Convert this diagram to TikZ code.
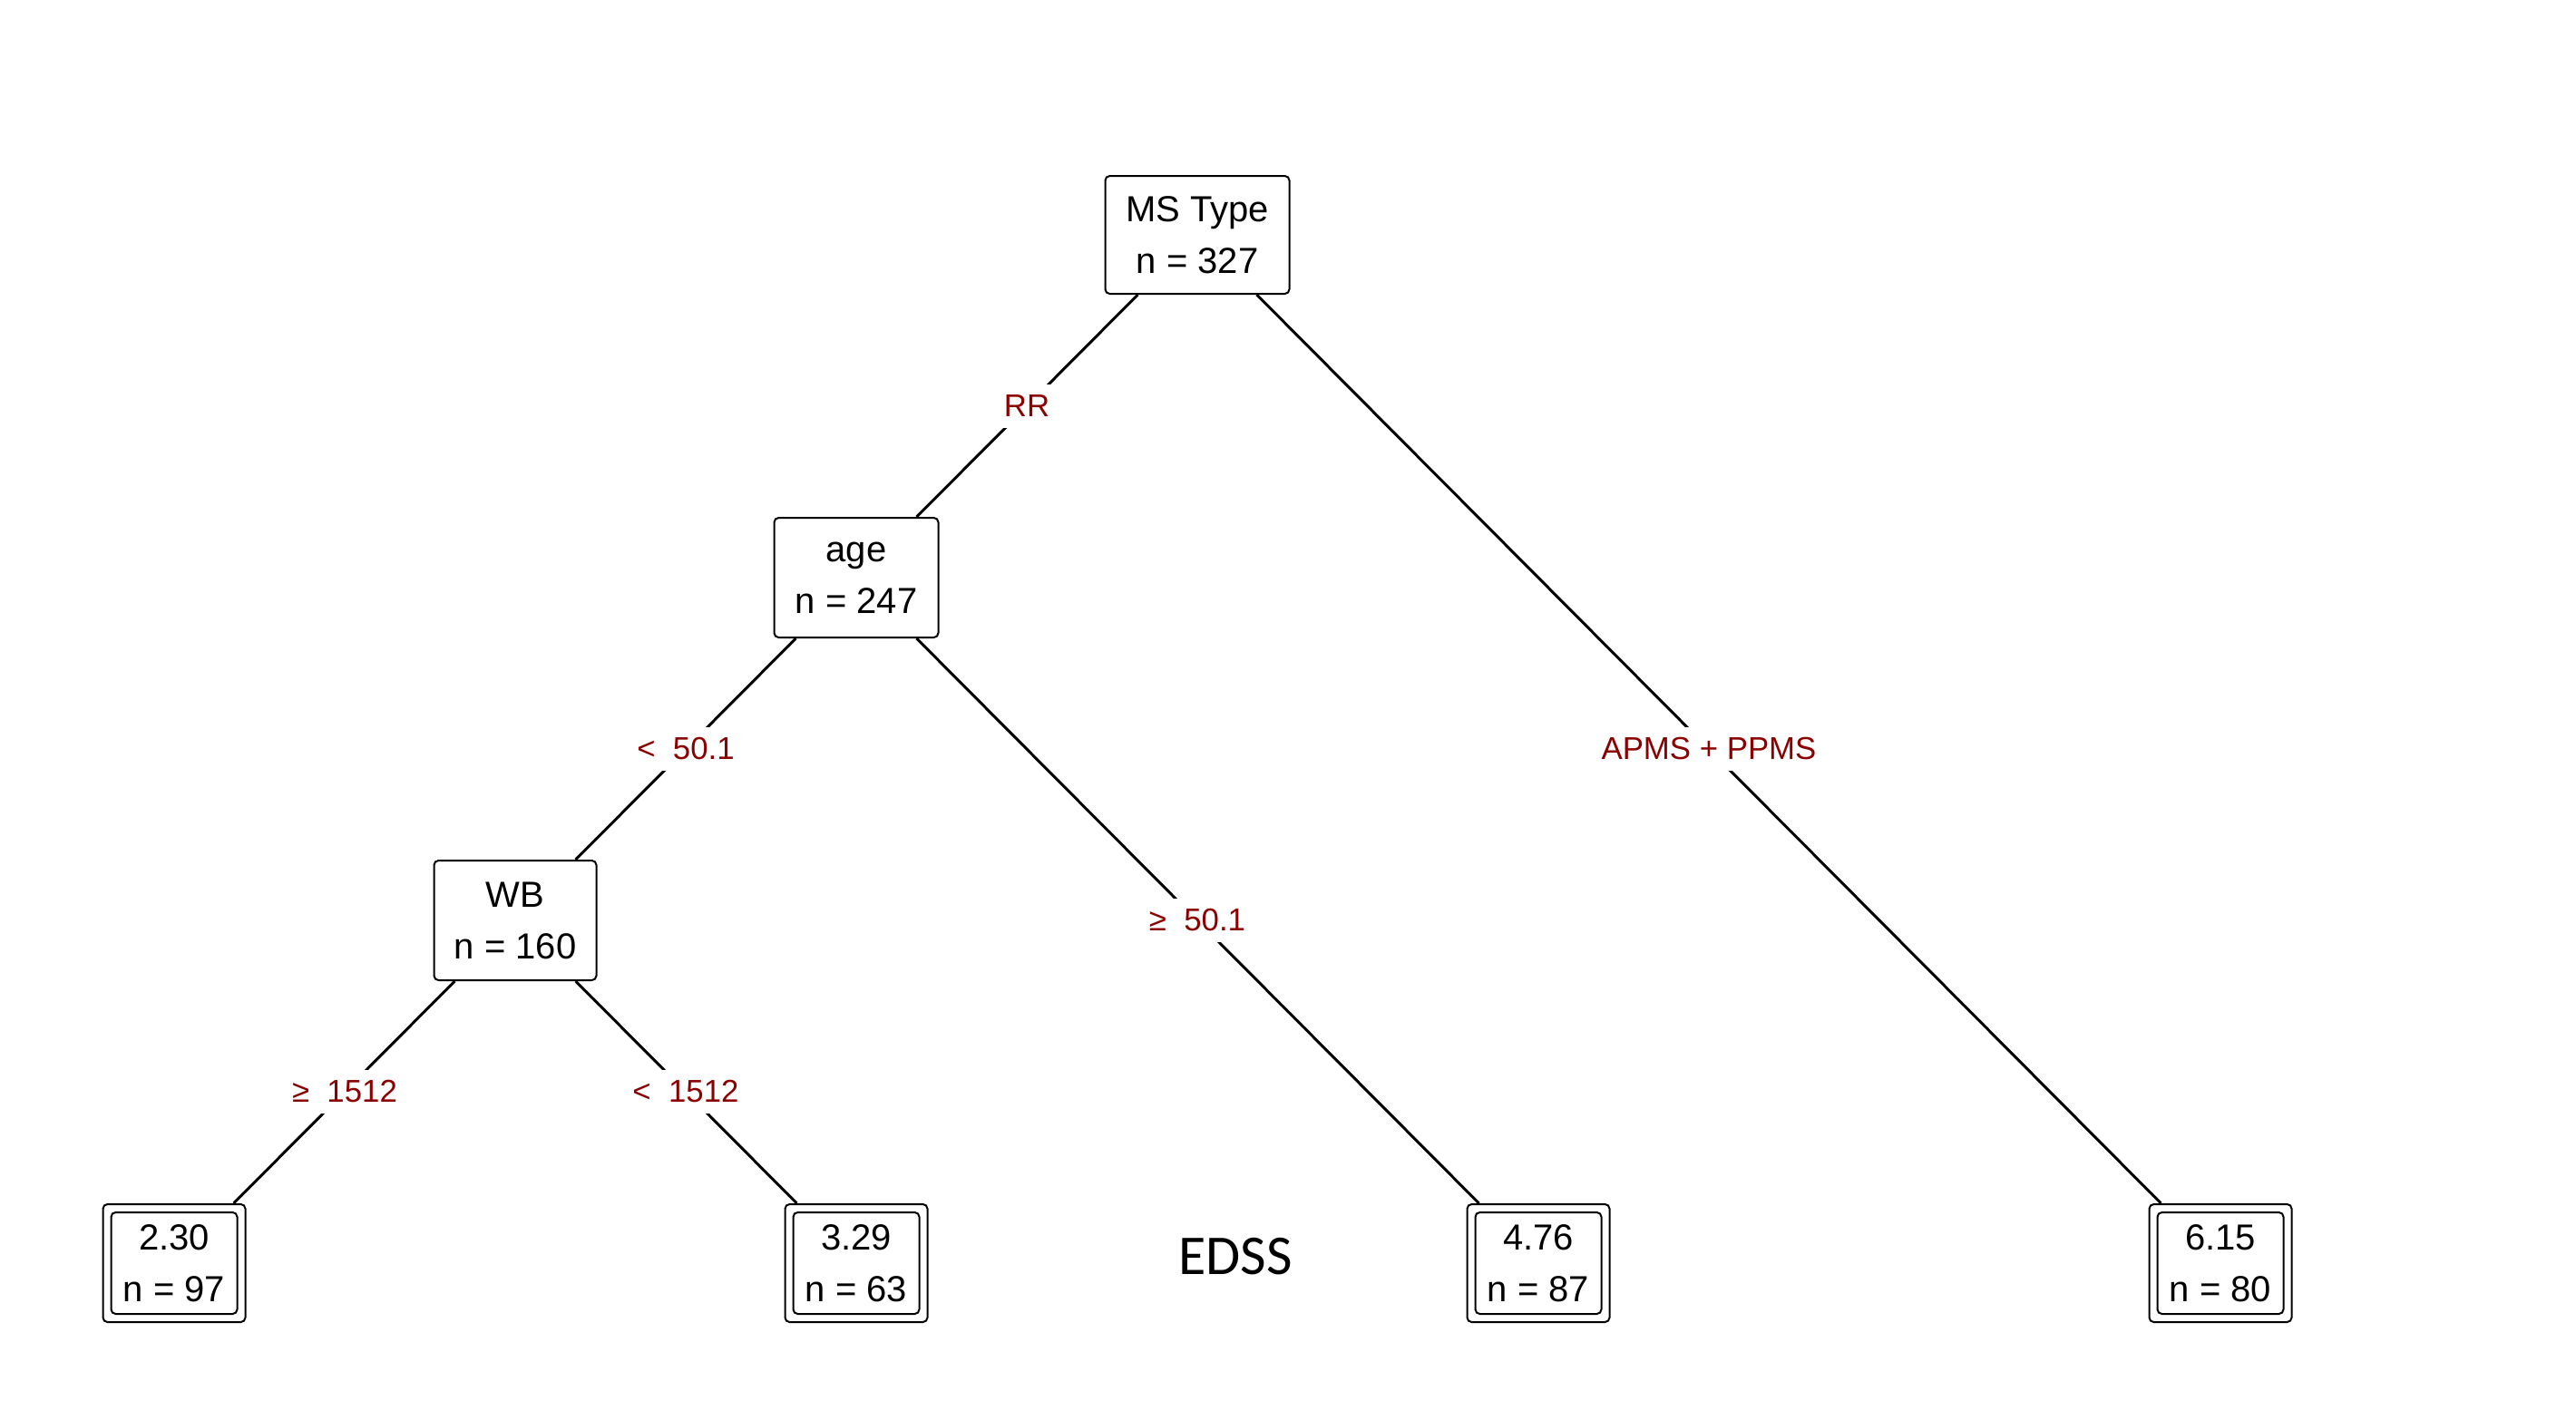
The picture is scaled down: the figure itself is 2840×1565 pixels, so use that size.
\documentclass[tikz,border=0pt]{standalone}
\usepackage{fontspec}
\setmainfont{Liberation Sans}
\newfontfamily\edssfont{Carlito}
\usetikzlibrary{calc}
\definecolor{lblred}{HTML}{8B0000}
\tikzset{
  inner/.style={draw=black, line width=0.5pt, rounded corners=1.25pt, fill=white,
    align=center, inner sep=0pt, font=\fontsize{10}{14.25}\selectfont},
  leafbox/.style={inner, minimum width=157*0.25pt, minimum height=130*0.25pt},
  edge/.style={line width=0.75pt, black},
  lbl/.style={fill=white, text=lblred, inner sep=1pt, minimum height=12pt,
    font=\fontsize{8.7}{10}\selectfont},
}
\begin{document}
\begin{tikzpicture}[x=0.25pt, y=-0.25pt]
\useasboundingbox (0,0) rectangle (2840,1565);
% internal nodes
\node[inner, minimum width=203*0.25pt, minimum height=130*0.25pt] (root) at (1320,259) {MS Type\\n = 327};
\node[inner, minimum width=181*0.25pt, minimum height=132*0.25pt] (age) at (944,637) {age\\n = 247};
\node[inner, minimum width=179*0.25pt, minimum height=132*0.25pt] (wb) at (568,1015) {WB\\n = 160};
% leaves
\node[leafbox] (l1) at (192,1393) {2.30\\n = 97};
\node[leafbox] (l2) at (944,1393) {3.29\\n = 63};
\node[leafbox] (l3) at (1696,1393) {4.76\\n = 87};
\node[leafbox] (l4) at (2448,1393) {6.15\\n = 80};
\foreach \l in {l1,l2,l3,l4}{
  \draw[line width=0.5pt, rounded corners=1.25pt]
    ([shift={(10,-10)}]\l.south west) rectangle ([shift={(-10,10)}]\l.north east);
}
% edges
\draw[edge] (root) -- (age);
\draw[edge] (root) -- (l4);
\draw[edge] (age) -- (wb);
\draw[edge] (age) -- (l3);
\draw[edge] (wb) -- (l1);
\draw[edge] (wb) -- (l2);
% labels
\node[lbl] (lrr) at ($(root.center)!0.5!(age.center)$) {RR};
\node[lbl] (lap) at ($(root.center)!0.5!(l4.center)$) {APMS + PPMS};
\node[lbl] (la1) at ($(age.center)!0.5!(wb.center)$) {<\ \ 50.1};
\node[lbl] (la2) at ($(age.center)!0.5!(l3.center)$) {≥\ \ 50.1};
\node[lbl] (lw1) at ($(wb.center)!0.5!(l1.center)$) {≥\ \ 1512};
\node[lbl] (lw2) at ($(wb.center)!0.5!(l2.center)$) {<\ \ 1512};
% title
\node[font=\edssfont\fontsize{15.5}{18}\selectfont, inner sep=0pt] (edss) at (1362,1386) {EDSS};
\end{tikzpicture}
\end{document}
